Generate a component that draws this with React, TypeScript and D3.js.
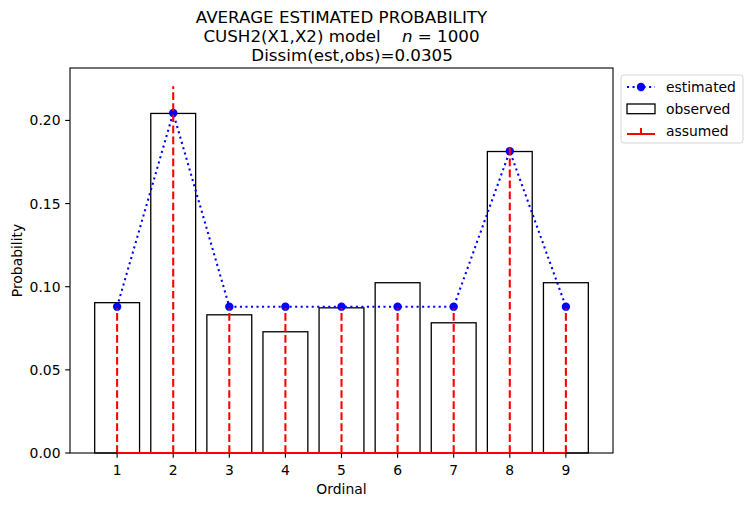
import React from "react";
import * as d3 from "d3";

// chart values
const ordinals = [1, 2, 3, 4, 5, 6, 7, 8, 9];
const observed = [0.0904, 0.2042, 0.0831, 0.0729, 0.0873, 0.1024, 0.0783, 0.1813, 0.1024];
const estimated = [0.088, 0.2045, 0.088, 0.088, 0.088, 0.088, 0.088, 0.1815, 0.088];
const assumed = [0.087, 0.2205, 0.087, 0.087, 0.087, 0.087, 0.087, 0.1840, 0.087];
const yTicks = [0, 0.05, 0.1, 0.15, 0.2];

const titleLines = ["AVERAGE ESTIMATED PROBABILITY", "CUSH2(X1,X2) model    ", "    Dissim(est,obs)=0.0305"];

const W = 749;
const H = 506;
const margin = { left: 70, right: 136, top: 68, bottom: 53 };
const font = "DejaVu Sans, sans-serif";
const barWidth = 0.8;

const App = () => {
  const iw = W - margin.left - margin.right;
  const ih = H - margin.top - margin.bottom;

  // matplotlib style 5% margins
  const xLo = d3.min(ordinals)! - barWidth / 2;
  const xHi = d3.max(ordinals)! + barWidth / 2;
  const xPad = (xHi - xLo) * 0.05;
  const x = d3.scaleLinear().domain([xLo - xPad, xHi + xPad]).range([0, iw]);
  const yMax = d3.max([...observed, ...estimated, ...assumed])! * 1.05;
  const y = d3.scaleLinear().domain([0, yMax]).range([ih, 0]);

  const line = d3
    .line<number>()
    .x((_, i) => x(ordinals[i]))
    .y((d) => y(d));

  const fmt = d3.format(".2f");
  const tickLen = 4.86;

  return (
    <svg
      width={W}
      height={H}
      style={{ position: "absolute", left: 0, top: 0, background: "white" }}
      fontFamily={font}
    >
      {/* title */}
      <g textAnchor="middle" fontSize={16.7} fill="black">
        <text x={margin.left + iw / 2} y={23}>{titleLines[0]}</text>
        <text x={margin.left + iw / 2} y={42} style={{ whiteSpace: "pre" }}>
          {titleLines[1]}
          <tspan fontStyle="italic">n</tspan>
          {" = 1000"}
        </text>
        <text x={margin.left + iw / 2} y={61} style={{ whiteSpace: "pre" }}>{titleLines[2]}</text>
      </g>

      <g transform={`translate(${margin.left},${margin.top})`}>
        {/* observed bars */}
        {observed.map((v, i) => (
          <rect
            key={i}
            x={x(ordinals[i] - barWidth / 2)}
            y={y(v)}
            width={x(barWidth) - x(0)}
            height={y(0) - y(v)}
            fill="white"
            stroke="black"
            strokeWidth={1.3}
          />
        ))}

        {/* estimated line */}
        <path
          d={line(estimated) ?? ""}
          fill="none"
          stroke="blue"
          strokeWidth={2.08}
          strokeDasharray="2.08 3.44"
        />
        {estimated.map((v, i) => (
          <circle key={i} cx={x(ordinals[i])} cy={y(v)} r={4.2} fill="blue" />
        ))}

        {/* assumed stems */}
        {assumed.map((v, i) => (
          <line
            key={i}
            x1={x(ordinals[i])}
            x2={x(ordinals[i])}
            y1={y(0)}
            y2={y(v)}
            stroke="red"
            strokeWidth={2.08}
            strokeDasharray="7.7 3.33"
          />
        ))}

        {/* axes frame */}
        <rect x={0} y={0} width={iw} height={ih} fill="none" stroke="black" strokeWidth={1.1} />
        <line
          x1={x(ordinals[0])}
          x2={x(ordinals[ordinals.length - 1])}
          y1={y(0)}
          y2={y(0)}
          stroke="red"
          strokeWidth={2}
        />

        {/* y axis */}
        {yTicks.map((t) => (
          <g key={t} transform={`translate(0,${y(t)})`}>
            <line x1={-tickLen} x2={0} stroke="black" strokeWidth={1.1} />
            <text x={-9.5} textAnchor="end" dominantBaseline="central" fontSize={13.9}>
              {fmt(t)}
            </text>
          </g>
        ))}
        {/* x axis */}
        {ordinals.map((t) => (
          <g key={t} transform={`translate(${x(t)},${ih})`}>
            <line y1={0} y2={tickLen} stroke="black" strokeWidth={1.1} />
            <text y={22} textAnchor="middle" fontSize={13.9}>
              {t}
            </text>
          </g>
        ))}
        <text x={iw / 2} y={ih + 41} textAnchor="middle" fontSize={13.9}>
          Ordinal
        </text>
        <text
          transform={`translate(${17 - margin.left},${ih / 2}) rotate(-90)`}
          textAnchor="middle"
          dominantBaseline="central"
          fontSize={13.9}
        >
          Probability
        </text>
      </g>

      {/* legend */}
      <g transform="translate(621,75)" fontSize={13.9}>
        <rect x={0} y={0} width={122} height={68} rx={3} fill="white" stroke="#d6d6d6" strokeWidth={1} />
        <line x1={6} x2={34} y1={12} y2={12} stroke="blue" strokeWidth={2.08} strokeDasharray="2.08 3.44" />
        <circle cx={20} cy={12} r={4.2} fill="blue" />
        <text x={45} y={12} dominantBaseline="central">estimated</text>
        <rect x={6} y={29} width={28} height={9.7} fill="white" stroke="black" strokeWidth={1.3} />
        <text x={45} y={34} dominantBaseline="central">observed</text>
        <line x1={6} x2={34} y1={59} y2={59} stroke="red" strokeWidth={2} />
        <line x1={20} x2={20} y1={59} y2={53} stroke="red" strokeWidth={2} />
        <text x={45} y={56} dominantBaseline="central">assumed</text>
      </g>
    </svg>
  );
};

export default App;
